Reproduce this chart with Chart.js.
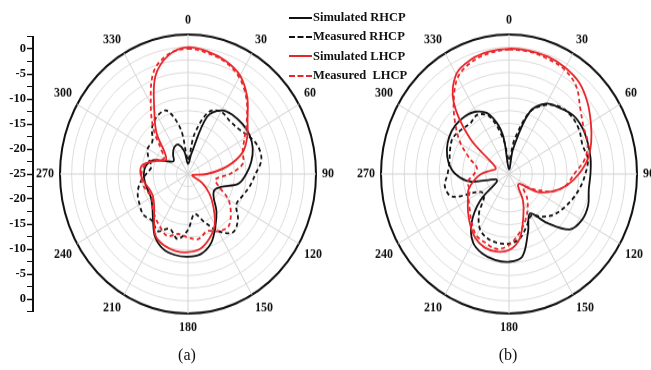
<!DOCTYPE html>
<html>
<head>
<meta charset="utf-8">
<script src="https://cdn.jsdelivr.net/npm/chart.js@4.4.0/dist/chart.umd.min.js"></script>
<style>
  html, body { margin: 0; padding: 0; background: #fff; width: 651px; height: 370px; overflow: hidden; }
  .panel { position: absolute; top: 0; width: 304px; height: 348px; transform: scaleY(1.09); transform-origin: 50% 174px; }
  #axisBox { position: absolute; left: 0; top: 0; width: 42px; height: 370px; }
  .legend { position: absolute; left: 289px; top: 8px; font: bold 12.5px 'Liberation Serif', serif; color: #111; }
  .legend div { height: 19.3px; display: flex; align-items: center; white-space: pre; }
  .legend .sample { display: inline-block; width: 23px; margin-right: 1px; border-top: 2px solid #111; }
  .caption { position: absolute; top: 346px; width: 40px; text-align: center; font: 16px 'Liberation Serif', serif; color: #111; }
</style>
</head>
<body>
<div id="axisBox"><canvas id="axis"></canvas></div>
<div class="panel" id="boxA" style="left:33px"><canvas id="chartA"></canvas></div>
<div class="panel" id="boxB" style="left:354px"><canvas id="chartB"></canvas></div>
<div class="legend" id="legend"></div>
<div class="caption" style="left:167px">(a)</div>
<div class="caption" style="left:488px">(b)</div>
<script>
// angles in degrees, 10 deg steps
const angles = [0,10,20,30,40,50,60,70,80,90,100,110,120,130,140,150,160,170,
                180,190,200,210,220,230,240,250,260,270,280,290,300,310,320,330,340,350];

const seriesNames = ['Simulated RHCP', 'Measured RHCP', 'Simulated LHCP', 'Measured  LHCP'];

// panel (a), dB
const simRhcpA  = [-23,-21,-13,-10.5,-9.9,-9.7,-9.7,-10.2,-11.2,-12.5,-14,-17.5,-18.5,-17.8,-15.5,-13.2,-10.5,-9,
                   -8.7,-8.8,-9.3,-10.8,-13.3,-15,-15.8,-15.8,-15.6,-15.5,-15.8,-17,-20,-21,-20,-19,-18.8,-20.5];
const measRhcpA = [-22,-17,-12,-10.8,-11.2,-11,-10,-9,-9,-10.5,-11.5,-12.5,-13,-11,-10,-12,-15,-17,
                   -14,-12,-13.5,-12,-13,-12.5,-13,-13.5,-14.5,-16,-17,-16,-15,-15,-13,-11.8,-11.7,-16];
const simLhcpA  = [0,-0.5,-1.3,-2.6,-5.2,-8.3,-10.3,-12.5,-16.5,-21,-24,-24,-21.5,-19,-16.5,-13.5,-11.5,-10,
                   -9.6,-9.6,-10,-11,-13.7,-15.5,-16.3,-16.2,-15.5,-14.8,-15,-17.5,-19.5,-18.5,-14.5,-10.5,-4.5,-1.2];
const measLhcpA = [-0.3,-0.8,-1.5,-3,-5.5,-8.5,-11,-12.5,-13,-16,-19,-18,-15,-13,-11.5,-12,-13,-12,
                   -12.5,-13,-12,-13,-14,-15,-16,-15.5,-15,-15,-15.5,-17,-19,-17.5,-13.5,-9,-3.5,-1];

// panel (b), dB
const simRhcpB  = [-24,-20,-12,-9,-8,-7,-6.8,-7,-7.2,-7.5,-7.6,-6.9,-6.9,-8,-12.5,-16,-13,-8.5,
                   -7.7,-7.8,-8.3,-9.5,-12.5,-17,-22,-22,-16.5,-13.5,-11.8,-10.8,-10.2,-10,-10.2,-10.8,-12.5,-17];
const measRhcpB = [-22,-18,-12,-9.3,-7.8,-7.4,-7.6,-8.2,-7.8,-8.6,-9.5,-10.5,-11.5,-12.5,-14,-15.5,-14,-12,
                   -11.3,-11.2,-11.5,-12.5,-15,-18,-18,-12,-11,-11.8,-12,-11.5,-11,-11.5,-12,-11.5,-13,-18];
const simLhcpB  = [-0.3,-0.3,-0.4,-0.8,-1.5,-3,-4.7,-6.2,-7.8,-10,-12.3,-15,-18,-22,-22,-19,-16,-12,
                   -10,-9.5,-9.6,-10.5,-12,-13.5,-14.8,-15.7,-17.3,-19,-21,-22,-21,-14,-6.5,-2.3,-1,-0.5];
const measLhcpB = [-0.5,-0.5,-0.8,-1.2,-2.5,-5,-6.5,-7,-8.5,-11,-12.5,-15,-19,-21,-19,-17,-15,-13,
                   -11,-10,-10.5,-11,-12.5,-14,-15,-16,-16,-17.5,-18,-16,-13,-10,-6.5,-3,-1.5,-0.8];

const rMin = -25, rMax = 2.5, rStep = 2.5;
const black = '#111111', red = '#e8262a';
const styles = [
  { color: black, dash: [], order: 2 },
  { color: black, dash: [4, 3], order: 3 },
  { color: red, dash: [], order: 0 },
  { color: red, dash: [4, 3], order: 1 }
];

function makePolar(id, values) {
  new Chart(document.getElementById(id), {
    type: 'radar',
    data: {
      labels: angles.map(String),
      datasets: values.map((v, i) => ({
        label: seriesNames[i],
        data: v,
        borderColor: styles[i].color,
        borderDash: styles[i].dash,
        order: styles[i].order,
        fill: false,
        borderWidth: 1.8,
        pointRadius: 0,
        tension: 0.35
      }))
    },
    options: {
      responsive: true,
      maintainAspectRatio: false,
      animation: false,
      plugins: { legend: { display: false }, tooltip: { enabled: false } },
      scales: {
        r: {
          min: rMin,
          max: rMax,
          ticks: { display: false, stepSize: rStep },
          grid: {
            circular: true,
            color: c => (c.tick && c.tick.value >= rMax) ? black : '#dcdcdc',
            lineWidth: c => (c.tick && c.tick.value >= rMax) ? 2 : 1
          },
          angleLines: { color: c => c.index % 3 === 0 ? '#d2d2d2' : 'rgba(0,0,0,0)' },
          pointLabels: {
            padding: 6,
            color: black,
            font: { family: 'Liberation Serif', weight: 'bold', size: 12 },
            callback: (label, i) => i % 3 === 0 ? label : ''
          }
        }
      }
    }
  });
}

makePolar('chartA', [simRhcpA, measRhcpA, simLhcpA, measLhcpA]);
makePolar('chartB', [simRhcpB, measRhcpB, simLhcpB, measLhcpB]);

// left dB axis: 0 at top, -25 at centre, 0 at bottom
new Chart(document.getElementById('axis'), {
  type: 'line',
  data: { labels: [], datasets: [] },
  options: {
    responsive: true,
    maintainAspectRatio: false,
    animation: false,
    layout: { padding: { top: 36.5, bottom: 58.5, right: 0 } },
    plugins: { legend: { display: false }, tooltip: { enabled: false } },
    scales: {
      x: { display: false },
      y: {
        min: -27.5,
        max: 27.5,
        afterFit: s => { s.width = 33; },
        ticks: {
          stepSize: 2.5,
          maxTicksLimit: 40,
          autoSkip: false,
          padding: 1,
          color: black,
          font: { family: 'Liberation Serif', weight: 'bold', size: 12.5 },
          callback: v => (Math.abs(v) % 5 === 0) ? String(Math.abs(v) - 25) : ''
        },
        grid: {
          drawOnChartArea: false,
          tickLength: 6,
          tickColor: black,
          tickWidth: c => (c.tick && Math.abs(c.tick.value) % 5 === 0) ? 1.5 : 1
        },
        border: { display: true, color: black, width: 2 }
      }
    }
  }
});

// legend
const legend = document.getElementById('legend');
seriesNames.forEach((name, i) => {
  const row = document.createElement('div');
  const s = document.createElement('span');
  s.className = 'sample';
  s.style.borderTopColor = styles[i].color;
  if (styles[i].dash.length) s.style.borderTopStyle = 'dashed';
  row.appendChild(s);
  row.appendChild(document.createTextNode(name));
  legend.appendChild(row);
});
</script>
</body>
</html>
